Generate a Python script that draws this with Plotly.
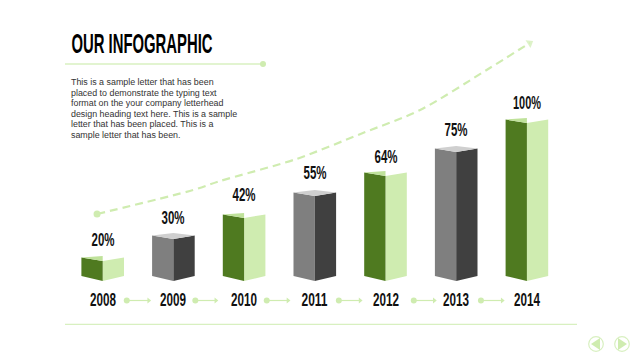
import plotly.graph_objects as go

years = ["2008", "2009", "2010", "2011", "2012", "2013", "2014"]
percent_labels = ["20%", "30%", "42%", "55%", "64%", "75%", "100%"]
bar_heights = [20, 42, 63, 85, 105, 129, 158]
label_gaps = [21, 21, 23, 23, 19, 22, 20]
bar_kinds = ["green", "gray", "green", "gray", "green", "gray", "green"]

trend_x = [-0.08, 1.28, 1.66, 2.74, 3.68, 4.49, 5.43, 6.04]
trend_y = [67, 91, 100, 122, 148, 171, 211, 238]

flow_start = [0.34, 1.31, 2.32, 3.34, 4.40, 5.35]
flow_end = [0.65, 1.60, 2.62, 3.64, 4.69, 5.65]

body_lines = [
    "This is a sample letter that has been",
    "placed to demonstrate the typing text",
    "format on the your company letterhead",
    "design heading text here. This is a sample",
    "letter that has been placed. This is a",
    "sample letter that has been.",
]

W, H = 640, 360
X0, STEP, BASE = 102.7, 70.7, 281
HW = 21.3 / STEP
LIGHT = "#cfecb0"
SANS = "Liberation Sans"

fig = go.Figure()


def poly(polys, color):
    xs, ys = [], []
    for p in polys:
        xs += [q[0] for q in p] + [p[0][0], None]
        ys += [q[1] for q in p] + [p[0][1], None]
    fig.add_trace(go.Scatter(x=xs, y=ys, mode="lines", fill="toself", fillcolor=color,
                             line=dict(width=0, color=color), hoverinfo="skip", showlegend=False))


layers = {"gl": [], "gr": [], "gt": [], "kl": [], "kr": [], "kt": []}
for i, (h, kind) in enumerate(zip(bar_heights, bar_kinds)):
    left = [(i - HW, 5), (i, 0), (i, h), (i - HW, h + 3.5)]
    right = [(i, 0), (i + HW, 5), (i + HW, h + 3.5), (i, h)]
    if kind == "green":
        layers["gl"].append(left)
        layers["gr"].append(right)
        layers["gt"].append([(i - HW, h + 3.5), (i, h + 5), (i, h)])
    else:
        layers["kl"].append(left)
        layers["kr"].append(right)
        layers["kt"].append([(i - HW, h + 3.5), (i, h + 6), (i + HW, h + 3.5), (i, h)])

poly(layers["gr"], LIGHT)
poly(layers["gl"], "#4f7a20")
poly(layers["gt"], "#bfe29a")
poly(layers["kl"], "#7f7f7f")
poly(layers["kr"], "#404040")
poly(layers["kt"], "#cfcfcf")

fig.add_trace(go.Scatter(x=trend_x, y=trend_y, mode="lines",
                         line=dict(color=LIGHT, width=2.2, dash="8px,5px", shape="spline", smoothing=0.8),
                         hoverinfo="skip", showlegend=False))
fig.add_trace(go.Scatter(x=trend_x[:1], y=trend_y[:1], mode="markers",
                         marker=dict(color=LIGHT, size=7), hoverinfo="skip", showlegend=False))
fig.add_trace(go.Scatter(x=trend_x[-2:], y=trend_y[-2:], mode="markers",
                         marker=dict(color=[LIGHT, LIGHT], size=[0, 8], symbol="triangle-up",
                                     angleref="previous", line=dict(width=0)),
                         hoverinfo="skip", showlegend=False))

for a, b in zip(flow_start, flow_end):
    fig.add_trace(go.Scatter(x=[a, b], y=[-19.5, -19.5], mode="lines",
                             line=dict(color=LIGHT, width=1.2), hoverinfo="skip", showlegend=False))
fig.add_trace(go.Scatter(x=flow_start, y=[-19.5] * 6, mode="markers",
                         marker=dict(color=LIGHT, size=6), hoverinfo="skip", showlegend=False))
fig.add_trace(go.Scatter(x=flow_end, y=[-19.5] * 6, mode="markers",
                         marker=dict(color=LIGHT, size=5, symbol="triangle-right"),
                         hoverinfo="skip", showlegend=False))

ann = []
for i, (y, lab, h, g) in enumerate(zip(years, percent_labels, bar_heights, label_gaps)):
    ann.append(dict(x=i, y=-19, xref="x", yref="y", text=y, showarrow=False,
                    font=dict(family=SANS, size=18, weight=700, color="#111111"),
                    xanchor="center", yanchor="middle"))
    ann.append(dict(x=i, y=h + g, xref="x", yref="y", text=lab, showarrow=False,
                    font=dict(family=SANS, size=18, weight=700, color="#111111"),
                    xanchor="center", yanchor="middle"))


def px(x):
    return x / W


def py(y):
    return 1 - y / H


ann.append(dict(x=px(141.5), y=py(43.5), xref="paper", yref="paper", text="OUR INFOGRAPHIC", showarrow=False,
                font=dict(family=SANS, size=28, weight=700, color="#000000"), xanchor="center", yanchor="middle"))
for n, line in enumerate(body_lines):
    ann.append(dict(x=px(69), y=py(82 + n * 10.6), xref="paper", yref="paper", text=line, showarrow=False,
                    font=dict(family=SANS, size=8.9, color="#333333"),
                    xanchor="left", yanchor="middle"))

shapes = [
    dict(type="line", xref="paper", yref="paper", x0=px(65), x1=px(262), y0=py(64), y1=py(64),
         line=dict(color="#d8f0c0", width=1.3)),
    dict(type="circle", xref="paper", yref="paper", x0=px(260), x1=px(266), y0=py(61), y1=py(67),
         fillcolor=LIGHT, line=dict(width=0)),
    dict(type="line", xref="paper", yref="paper", x0=px(65), x1=px(577), y0=py(324.3), y1=py(324.3),
         line=dict(color="#d8f0c0", width=1.3)),
]
for cx, d in [(596, -1), (622, 1)]:
    shapes.append(dict(type="circle", xref="paper", yref="paper", x0=px(cx - 7.3), x1=px(cx + 7.3),
                       y0=py(344 + 7.3), y1=py(344 - 7.3), fillcolor="white",
                       line=dict(color="#d8f0c0", width=1.2)))
    path = "M {} {} L {} {} L {} {} Z".format(px(cx + d * 5), py(344), px(cx - d * 4), py(338), px(cx - d * 4), py(350))
    shapes.append(dict(type="path", xref="paper", yref="paper", path=path, fillcolor=LIGHT, line=dict(width=0)))

fig.update_layout(
    width=W, height=H, margin=dict(l=0, r=0, t=0, b=0),
    paper_bgcolor="white", plot_bgcolor="white", showlegend=False,
    xaxis=dict(range=[-X0 / STEP, (W - X0) / STEP], visible=False, fixedrange=True),
    yaxis=dict(range=[BASE - H, BASE], visible=False, fixedrange=True),
    annotations=ann, shapes=shapes,
)

# No condensed display face is installed: squeeze the real text glyphs to the reference widths.
squeeze = """
document.body.style.margin='0';document.body.style.overflow='hidden';
document.querySelectorAll('.annotation-text').forEach(function(t){
  var s=t.textContent, w=0;
  if(s==='OUR INFOGRAPHIC') w=141;
  else if(/^20[01][0-9]$/.test(s)) w=26;
  else if(s==='100%') w=28;
  else if(/^[0-9]+%$/.test(s)) w=23;
  if(w){t.setAttribute('lengthAdjust','spacingAndGlyphs');t.setAttribute('textLength',w);}
});
"""
fig.write_html("out.html", config=dict(displayModeBar=False), post_script=squeeze)
